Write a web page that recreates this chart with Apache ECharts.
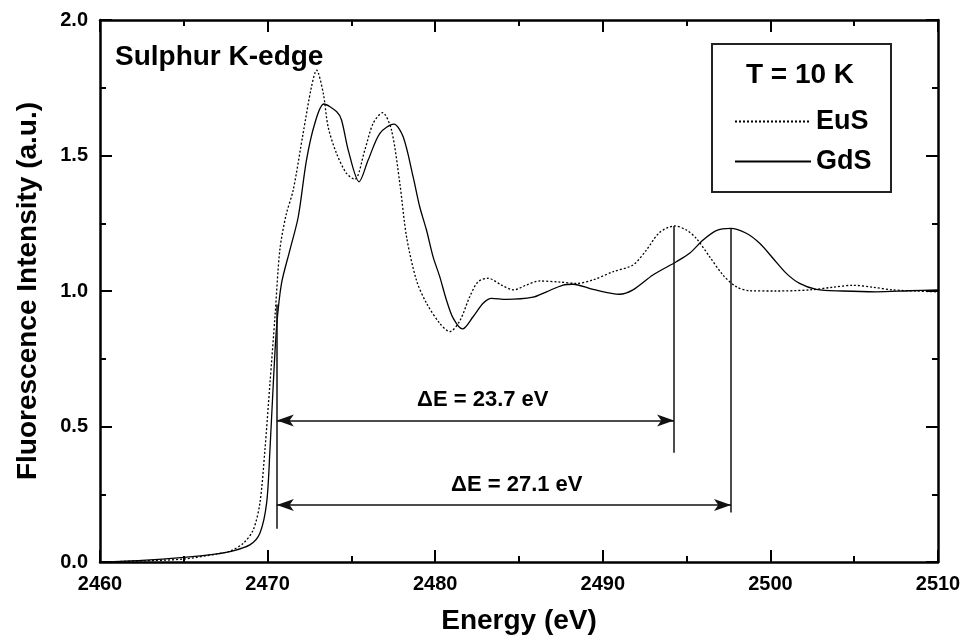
<!DOCTYPE html>
<html>
<head>
<meta charset="utf-8">
<script src="https://cdn.jsdelivr.net/npm/echarts@6/dist/echarts.min.js"></script>
<style>
  html, body { margin: 0; padding: 0; background: #fff; }
  #chart { width: 965px; height: 643px; }
</style>
</head>
<body>
<div id="chart"></div>
<script>
// EuS (dotted) and GdS (solid) fluorescence spectra
var eusE = [2460, 2462.5, 2465, 2467, 2467.75, 2468.55, 2469.14, 2469.54, 2469.84, 2470.14, 2470.44, 2470.73, 2471.1, 2471.53, 2472.12, 2472.62, 2472.92, 2473.32, 2473.61, 2474.11, 2474.71, 2475.2, 2475.8, 2476.3, 2476.86, 2477.39, 2477.89, 2478.29, 2478.88, 2479.48, 2480.27, 2480.87, 2481.47, 2482.06, 2482.56, 2483.16, 2483.95, 2484.69, 2485.44, 2486.24, 2487.43, 2488.42, 2489.42, 2490.61, 2491.8, 2492.6, 2493.39, 2494.29, 2494.99, 2495.58, 2496.37, 2497.17, 2497.96, 2498.76, 2500.35, 2502.34, 2503.73, 2504.92, 2506.11, 2507.3, 2510];
var eusI = [0.0, 0.004, 0.011, 0.03, 0.04, 0.069, 0.118, 0.217, 0.413, 0.659, 0.905, 1.151, 1.28, 1.373, 1.582, 1.754, 1.815, 1.73, 1.606, 1.508, 1.434, 1.412, 1.52, 1.619, 1.658, 1.594, 1.397, 1.2, 1.04, 0.955, 0.881, 0.85, 0.89, 0.979, 1.034, 1.047, 1.022, 1.004, 1.022, 1.037, 1.033, 1.028, 1.041, 1.071, 1.096, 1.151, 1.216, 1.24, 1.225, 1.194, 1.127, 1.059, 1.016, 1.001, 1.0, 1.004, 1.014, 1.021, 1.014, 1.004, 0.997];
var gdsE = [2460, 2462.5, 2465, 2467, 2467.75, 2468.94, 2469.54, 2469.94, 2470.14, 2470.34, 2470.54, 2470.83, 2471.33, 2471.83, 2472.32, 2472.82, 2473.36, 2474.11, 2474.41, 2474.81, 2475.46, 2476.0, 2476.7, 2477.53, 2478.09, 2478.68, 2479.08, 2479.48, 2479.87, 2480.27, 2480.67, 2481.07, 2481.63, 2482.26, 2482.86, 2483.36, 2484.25, 2485.84, 2486.64, 2487.63, 2488.22, 2489.42, 2491.0, 2491.8, 2492.99, 2494.39, 2495.18, 2495.98, 2496.77, 2497.63, 2498.56, 2499.36, 2500.15, 2500.95, 2501.74, 2502.74, 2504.31, 2506.3, 2508.3, 2510];
var gdsI = [0.0, 0.006, 0.017, 0.03, 0.038, 0.063, 0.106, 0.217, 0.413, 0.659, 0.87, 1.028, 1.151, 1.274, 1.483, 1.619, 1.69, 1.662, 1.631, 1.52, 1.403, 1.483, 1.582, 1.616, 1.569, 1.422, 1.31, 1.225, 1.127, 1.053, 0.967, 0.9, 0.86, 0.905, 0.955, 0.973, 0.969, 0.977, 0.997, 1.022, 1.025, 1.006, 0.988, 1.004, 1.059, 1.108, 1.139, 1.188, 1.223, 1.231, 1.213, 1.176, 1.121, 1.065, 1.028, 1.006, 1.0, 0.997, 1.001, 1.004];

// edge position and the two high-energy peaks (eV), arrow heights
var edgeE = 2470.55, eusPeakE = 2494.25, gdsPeakE = 2497.65;
var arrowI = [0.522, 0.21];
var deltaLabels = ['ΔE = 23.7 eV', 'ΔE = 27.1 eV'];
var deltaPos = [[2482.84, 0.598], [2484.87, 0.284]];

var FONT = '"Liberation Sans", Arial, sans-serif';

function zip(xs, ys) {
  var out = [];
  for (var i = 0; i < xs.length; i++) out.push([xs[i], ys[i]]);
  return out;
}

var chart = echarts.init(document.getElementById('chart'));

var axisBase = {
  type: 'value',
  axisLine: { show: true, onZero: false, lineStyle: { color: '#000', width: 2.5 } },
  axisTick: { show: true, inside: true, length: 12, lineStyle: { color: '#000', width: 2 } },
  minorTick: { show: true, splitNumber: 2, length: 6, lineStyle: { color: '#000', width: 2 } },
  splitLine: { show: false },
  axisLabel: { color: '#000', fontSize: 20, fontWeight: 'bold', fontFamily: FONT }
};

function axis(extra) {
  return echarts.util.merge(echarts.util.clone(axisBase), extra, true);
}

var lineStyleAnn = { color: '#111', width: 1.5, type: 'solid' };

var option = {
  animation: false,
  backgroundColor: '#fff',
  grid: { left: 100, right: 27, top: 20, bottom: 81 },
  xAxis: [
    axis({
      position: 'bottom', min: 2460, max: 2510, interval: 10,
      axisLabel: { margin: 12, formatter: function (v) { return String(v); } },
      name: 'Energy (eV)', nameLocation: 'middle', nameGap: 45,
      nameTextStyle: { color: '#000', fontSize: 28, fontWeight: 'bold', fontFamily: FONT }
    }),
    axis({ position: 'top', min: 2460, max: 2510, interval: 10, axisLabel: { show: false } })
  ],
  yAxis: [
    axis({
      position: 'left', min: 0, max: 2, interval: 0.5,
      axisLabel: { margin: 12, formatter: function (v) { return v.toFixed(1); } },
      name: 'Fluorescence Intensity (a.u.)', nameLocation: 'middle', nameGap: 58,
      nameTextStyle: { color: '#000', fontSize: 28, fontWeight: 'bold', fontFamily: FONT }
    }),
    axis({ position: 'right', min: 0, max: 2, interval: 0.5, axisLabel: { show: false } })
  ],
  legend: {
    orient: 'vertical', left: 729, top: 103, itemWidth: 76, itemHeight: 10, itemGap: 13,
    itemStyle: { opacity: 0 },
    textStyle: { color: '#000', fontSize: 27, fontWeight: 'bold', fontFamily: FONT },
    data: ['EuS', 'GdS']
  },
  series: [
    {
      name: 'EuS', type: 'line', showSymbol: false, symbol: 'none', smooth: 0.3,
      lineStyle: { color: '#000', width: 1.3, type: [2, 2] },
      itemStyle: { color: '#000' },
      data: zip(eusE, eusI)
    },
    {
      name: 'GdS', type: 'line', showSymbol: false, symbol: 'none', smooth: 0.3,
      lineStyle: { color: '#000', width: 1.3 },
      itemStyle: { color: '#000' },
      data: zip(gdsE, gdsI),
      markLine: {
        silent: true, animation: false, symbol: 'none', label: { show: false },
        lineStyle: lineStyleAnn,
        data: [
          [{ coord: [edgeE, 0.123] }, { coord: [edgeE, 0.95] }],
          [{ coord: [eusPeakE, 0.403] }, { coord: [eusPeakE, 1.24] }],
          [{ coord: [gdsPeakE, 0.183] }, { coord: [gdsPeakE, 1.231] }],
          [{ coord: [edgeE, arrowI[0]], symbol: 'arrow', symbolSize: [9, 17] },
           { coord: [eusPeakE, arrowI[0]], symbol: 'arrow', symbolSize: [9, 17] }],
          [{ coord: [edgeE, arrowI[1]], symbol: 'arrow', symbolSize: [9, 17] },
           { coord: [gdsPeakE, arrowI[1]], symbol: 'arrow', symbolSize: [9, 17] }]
        ]
      }
    }
  ]
};

chart.setOption(option);

// annotation texts placed from data coordinates
var g = [
  {
    type: 'rect', shape: { x: 712, y: 44, width: 179, height: 148 },
    style: { fill: 'none', stroke: '#222', lineWidth: 2 }, z: 10
  },
  {
    type: 'text', x: 800, y: 75,
    style: { text: 'T = 10 K', fill: '#000', font: 'bold 28px ' + FONT, align: 'center', verticalAlign: 'middle' }, z: 10
  },
  {
    type: 'text', x: 115, y: 57,
    style: { text: 'Sulphur K-edge', fill: '#000', font: 'bold 28px ' + FONT, align: 'left', verticalAlign: 'middle' }, z: 10
  }
];
for (var k = 0; k < deltaLabels.length; k++) {
  var p = chart.convertToPixel({ xAxisIndex: 0, yAxisIndex: 0 }, deltaPos[k]);
  g.push({
    type: 'text', x: p[0], y: p[1],
    style: { text: deltaLabels[k], fill: '#000', font: 'bold 22px ' + FONT, align: 'center', verticalAlign: 'middle' }, z: 10
  });
}
chart.setOption({ graphic: g });
</script>
</body>
</html>
